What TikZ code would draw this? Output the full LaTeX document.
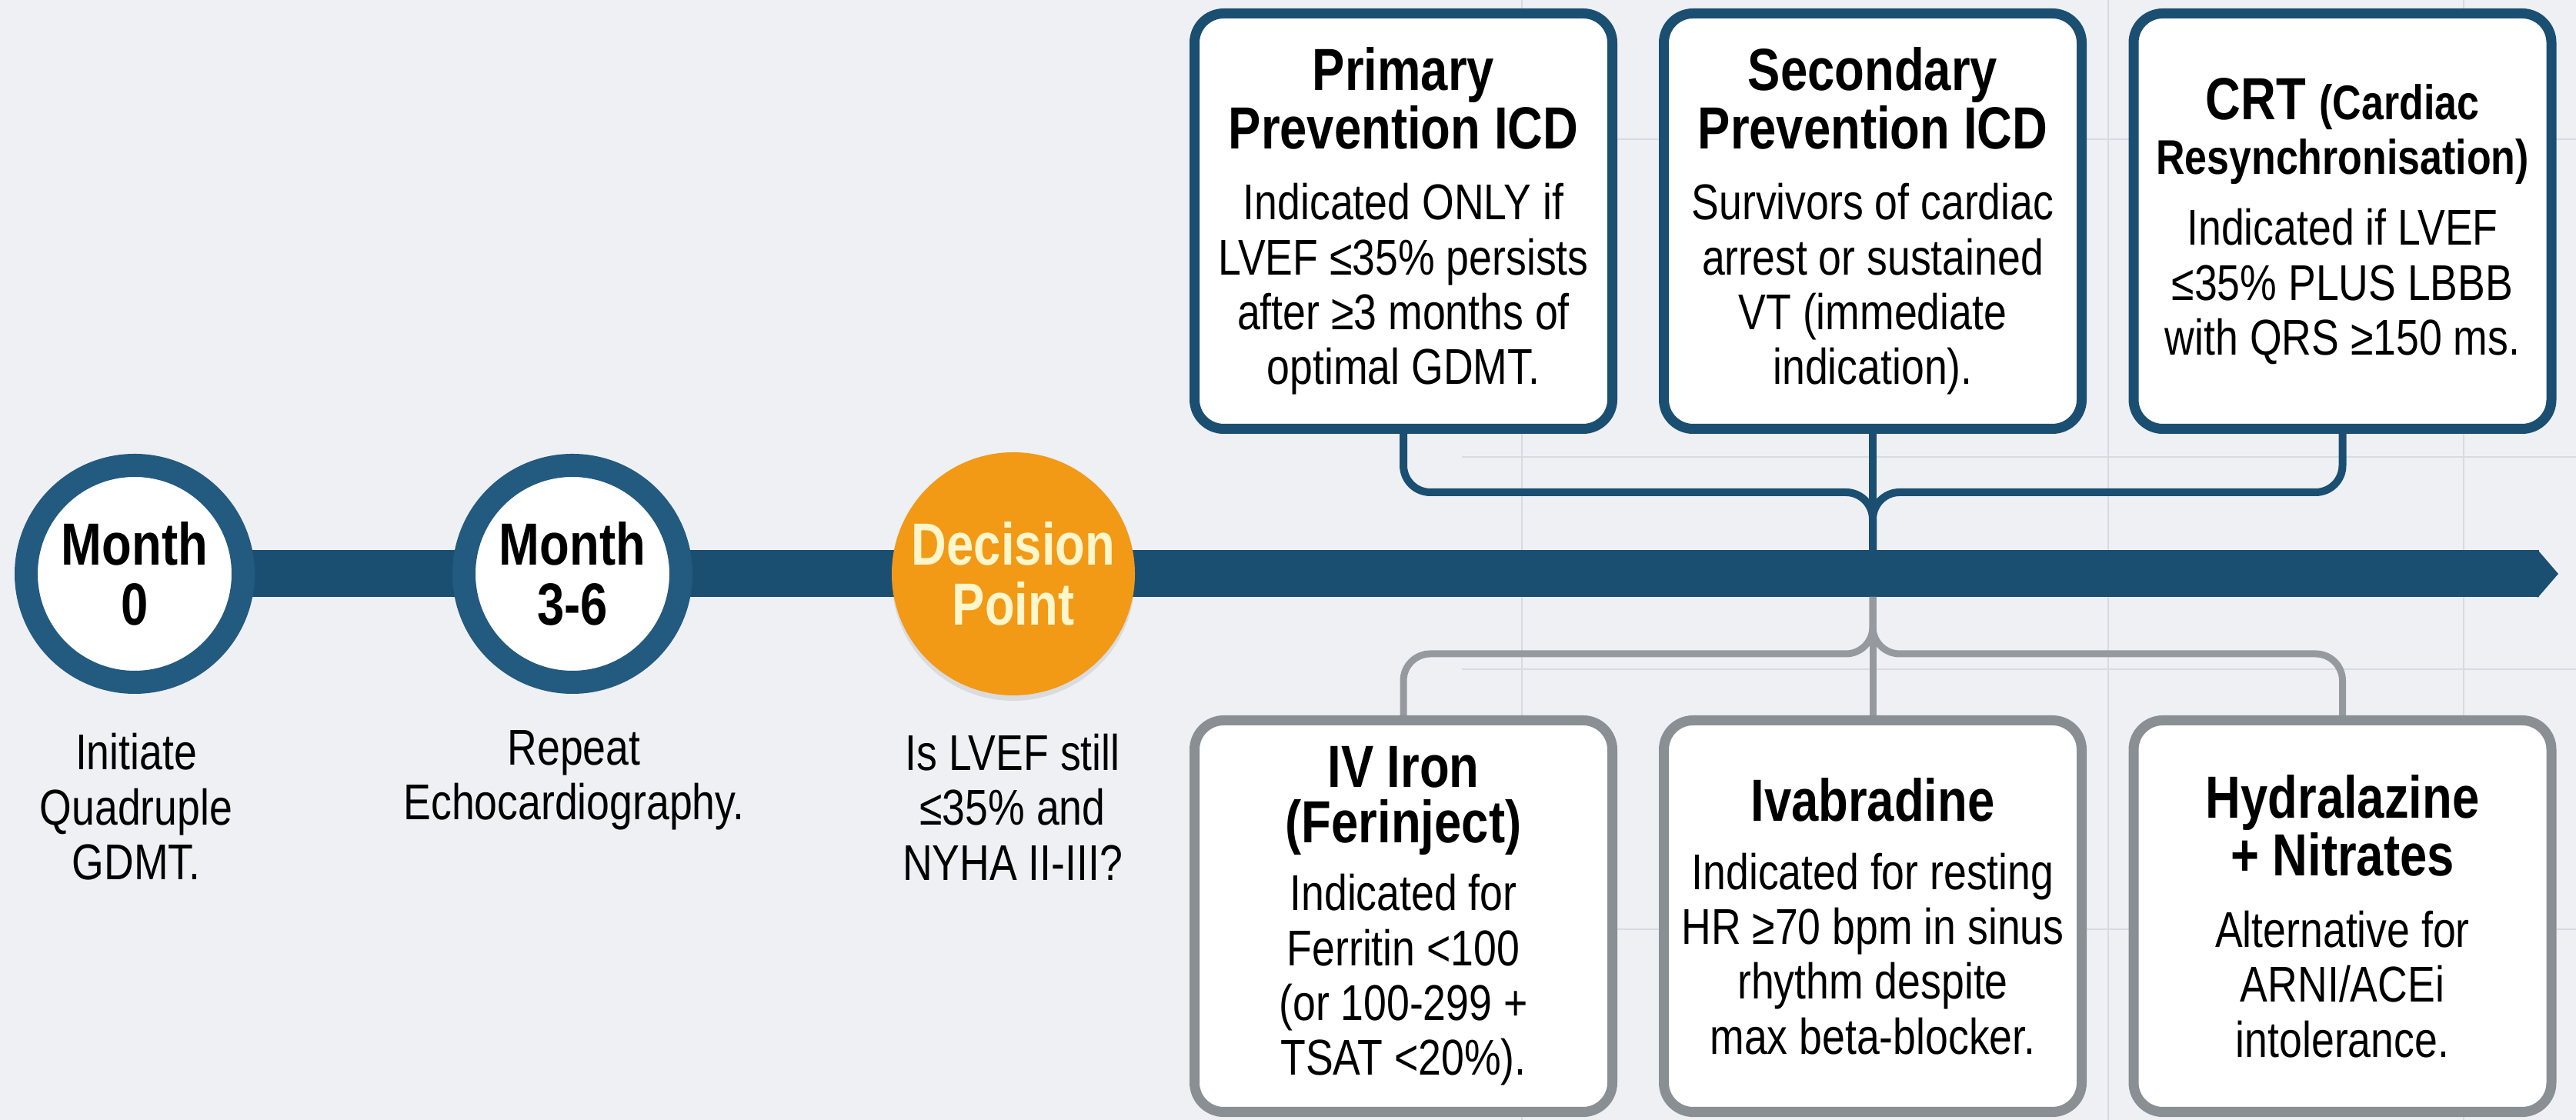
\documentclass[tikz,border=0pt]{standalone}
\usepackage{fontspec}
\setmainfont{Liberation Sans}[FakeStretch=0.82]
\usetikzlibrary{arrows.meta}
\usetikzlibrary{backgrounds,shadows}
\definecolor{navy}{RGB}{27,79,114}
\definecolor{ring}{RGB}{35,90,127}
\definecolor{amber}{RGB}{242,153,22}
\definecolor{cream}{RGB}{255,246,204}
\definecolor{bggray}{RGB}{238,240,244}
\definecolor{gridgray}{RGB}{215,219,225}
\definecolor{linkgray}{RGB}{150,154,159}
\definecolor{boxgray}{RGB}{138,143,148}
\newcommand{\hd}{\fontsize{22}{22}\selectfont\bfseries}
\newcommand{\sh}{\fontsize{18}{22}\selectfont\bfseries}
\newcommand{\bd}{\fontsize{18.6}{20.3}\selectfont}

\begin{document}
\begin{tikzpicture}[thick,
    soft/.style={drop shadow={shadow xshift=0pt, shadow yshift=-0.07cm, opacity=0.18}},
    month/.style={circle, draw=ring, line width=0.30cm, fill=white, minimum size=2.82cm,
      inner sep=0pt, align=center, font=\hd, soft},
    decision/.style={circle, fill=amber, minimum size=3.16cm, inner sep=0pt,
      align=center, font=\hd, text=cream, soft},
    note/.style={align=center, font=\bd},
    topbox/.style={draw=navy, line width=0.13cm, fill=white, rounded corners=0.38cm,
      minimum width=5.43cm, minimum height=5.40cm, align=center, font=\bd, soft},
    lowbox/.style={topbox, draw=boxgray, minimum height=5.09cm},
    bluelink/.style={draw=navy, line width=0.10cm, rounded corners=0.35cm},
    graylink/.style={draw=linkgray, line width=0.09cm, rounded corners=0.35cm}]

  \useasboundingbox (0,0) rectangle (33.48,14.56);

  % timeline
  \node [month, name=m0] at (1.75,7.10) {Month\\0};
  \node [month, name=m36] at (7.44,7.10) {Month\\3-6};
  \node [decision, name=dp] at (13.17,7.10) {Decision\\Point};

  \node [note, name=t0] at (1.77,4.07) {Initiate\\Quadruple\\GDMT.};
  \node [note, name=t36] at (7.46,4.42) {Repeat\\Echocardiography.};
  \node [note, name=tdp] at (13.16,4.07) {Is LVEF still\\≤35\% and\\NYHA II-III?};

  \coordinate (tip) at (33.25,7.10);
  \coordinate (jtop) at (24.34,7.41);
  \coordinate (jbot) at (24.34,6.80);
  \coordinate (bustop) at (24.34,8.16);
  \coordinate (busbot) at (24.34,6.06);

  % devices
  \node [topbox, name=icd1] at (18.24,11.685)
    {\hd Primary\\\hd Prevention ICD\\[6pt]Indicated ONLY if\\LVEF ≤35\% persists\\after ≥3 months of\\optimal GDMT.};
  \node [topbox, name=icd2] at (24.34,11.685)
    {\hd Secondary\\\hd Prevention ICD\\[6pt]Survivors of cardiac\\arrest or sustained\\VT (immediate\\indication).};
  \node [topbox, name=crt] at (30.445,11.685)
    {\hd CRT \sh(Cardiac\\\sh Resynchronisation)\\[6pt]Indicated if LVEF\\≤35\% PLUS LBBB\\with QRS ≥150 ms.};

  % drugs
  \node [lowbox, name=iron] at (18.24,2.65)
    {\hd IV Iron\\\hd (Ferinject)\\[5pt]Indicated for\\Ferritin <100\\(or 100-299 +\\TSAT <20\%).};
  \node [lowbox, name=ivab] at (24.34,2.65)
    {\hd Ivabradine\\[5pt]Indicated for resting\\HR ≥70 bpm in sinus\\rhythm despite\\max beta-blocker.};
  \node [lowbox, name=hydra] at (30.445,2.65)
    {\hd Hydralazine\\\hd + Nitrates\\[6pt]Alternative for\\ARNI/ACEi\\intolerance.};

  \draw [bluelink] (icd1.south) |- (bustop) -- (jtop);
  \draw [bluelink] (crt.south) |- (bustop) -- (jtop);
  \draw [bluelink] (icd2.south) -- (jtop);

  \draw [graylink] (jbot) -- (busbot) -| (iron.north);
  \draw [graylink] (jbot) -- (busbot) -| (hydra.north);
  \draw [graylink] (jbot) -- (ivab.north);

  \begin{scope}[on background layer]
    \fill [bggray] (0,0) rectangle (33.48,14.56);
    \foreach \x in {19.78,27.40,32.02}
      \draw [gridgray, line width=0.7pt] (\x,0) -- (\x,14.56);
    \foreach \y in {12.75,8.62,5.86,2.48}
      \draw [gridgray, line width=0.7pt] (19.0,\y) -- (33.48,\y);
    \draw [navy, line width=0.61cm, -{Triangle[length=0.27cm, width=0pt 1]}]
      (m0.center) -- (tip);
  \end{scope}
\end{tikzpicture}
\end{document}
